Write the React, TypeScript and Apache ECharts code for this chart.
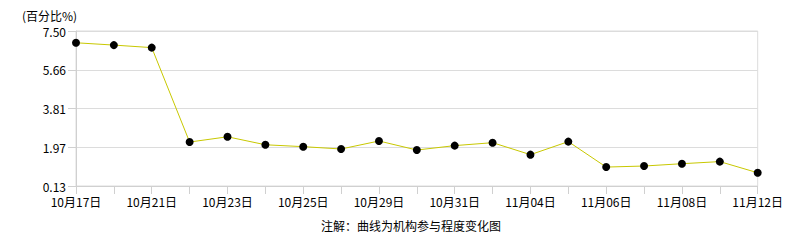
import React, { useEffect, useRef } from "react";
import * as echarts from "echarts";

const categories = [
  "10月17日", "10月18日", "10月21日", "10月22日", "10月23日", "10月24日", "10月25日",
  "10月28日", "10月29日", "10月30日", "10月31日", "11月01日", "11月04日", "11月05日",
  "11月06日", "11月07日", "11月08日", "11月11日", "11月12日",
];
const values = [
  6.94, 6.83, 6.71, 2.22, 2.47, 2.09, 2.0, 1.89, 2.27, 1.84, 2.05, 2.19, 1.62, 2.24,
  1.03, 1.08, 1.19, 1.29, 0.76,
];
const yTickLabels = ["0.13", "1.97", "3.81", "5.66", "7.50"];
const yMin = 0.13;
const yMax = 7.5;
const unitLabel = "(百分比%)";
const footnote = "注解：曲线为机构参与程度变化图";

const FONT = "'Noto Sans CJK SC', sans-serif";

export default function App() {
  const ref = useRef<HTMLDivElement>(null);
  useEffect(() => {
    document.body.style.margin = "0";
    const chart = echarts.init(ref.current!, null, { renderer: "svg" });
    const interval = (yMax - yMin) / (yTickLabels.length - 1);
    chart.setOption({
      animation: false,
      textStyle: { fontFamily: FONT },
      grid: { left: 76, right: 26, top: 31, bottom: 54, show: true, borderColor: "#dcdcdc", borderWidth: 1 },
      title: {
        text: unitLabel,
        left: 17,
        top: 4,
        textStyle: { fontSize: 12, fontWeight: "normal", color: "#000", fontFamily: FONT },
      },
      graphic: [
        {
          type: "text",
          left: 321,
          top: 219,
          style: { text: footnote, fontSize: 12, fill: "#000", fontFamily: FONT },
        },
      ],
      xAxis: {
        type: "category",
        data: categories,
        boundaryGap: false,
        axisLine: { lineStyle: { color: "#d0d0d0" } },
        axisTick: { show: true, interval: 0, length: 8, lineStyle: { color: "#d0d0d0" } },
        axisLabel: { interval: 1, color: "#000", fontSize: 12, lineHeight: 12, margin: 9, fontFamily: FONT },
        splitLine: { show: false },
      },
      yAxis: {
        type: "value",
        min: yMin,
        max: yMax,
        interval,
        axisLine: { show: true, lineStyle: { color: "#d0d0d0" } },
        axisTick: { show: true, length: 8, lineStyle: { color: "#d0d0d0" } },
        axisLabel: {
          color: "#000",
          fontSize: 12,
          lineHeight: 12,
          margin: 10,
          fontFamily: FONT,
          formatter: (v: number) => yTickLabels[Math.round((v - yMin) / interval)] ?? "",
        },
        splitLine: { show: true, lineStyle: { color: "#dcdcdc" } },
      },
      series: [
        {
          type: "line",
          data: values,
          symbol: "circle",
          symbolSize: 8,
          itemStyle: { color: "#000" },
          lineStyle: { color: "#c8c800", width: 1 },
        },
      ],
    });
    return () => chart.dispose();
  }, []);
  return <div ref={ref} style={{ width: 786, height: 240 }} />;
}
